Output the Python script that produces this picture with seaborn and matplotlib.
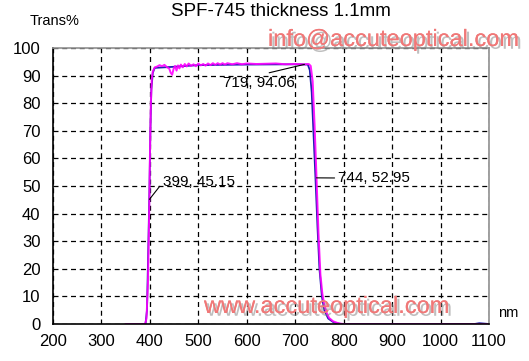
import seaborn as sns
import pandas as pd
import numpy as np
import matplotlib
import matplotlib.pyplot as plt
import matplotlib.patheffects as pe

# measured curve (magenta)
wl_a = [350, 390, 393, 396, 398, 399, 400, 402, 404, 406, 410, 415, 420, 425, 430, 435,
        440, 443, 446, 449, 452, 455, 458, 461, 464, 468, 472, 476, 480, 485, 490, 495,
        500, 505, 510, 515, 520, 525, 530, 535, 540, 545, 550, 555, 560, 570, 580, 590, 600, 620, 640,
        660, 680, 700, 719, 728, 732, 736, 740, 744, 748, 752, 756, 760, 765, 770, 778,
        790, 800, 900, 1000, 1100]
tr_a = [0, 0, 2, 15, 35, 45.15, 60, 80, 89, 91.5, 93, 93.3, 93.8, 93.4, 93.9, 93.1,
        92.5, 91, 90.3, 92.5, 93.5, 91.8, 93.7, 92.6, 94, 93.0, 94.2, 93.3, 94.4, 93.5, 94.1, 93.4,
        94.4, 93.7, 94.2, 93.6, 94.4, 93.8, 94.5, 93.9, 94.5, 94.0, 94.5, 94.0, 94.5, 94.1, 94.5, 94.1, 94.4, 94.2, 94.3,
        94.4, 94.1, 94.2, 94.06, 94.2, 93.5, 88, 72, 52.95, 33, 18, 11, 7, 4, 2.2, 1.0,
        0.2, 0, 0, 0, 0]

# reference curve (blue)
wl_b = [385, 391, 394, 397, 399, 401, 403, 406, 410, 450, 500, 600, 700, 726, 730, 734,
        738, 742, 746, 750, 755, 760, 768, 780, 795, 1070, 1080, 1090, 1100]
tr_b = [0, 0, 5, 30, 48, 70, 85, 91, 92.8, 93.2, 93.8, 94.0, 94.1, 94.0, 92, 84,
        68, 52, 35, 20, 10, 5, 2, 0.5, 0, 0, 0.3, 0.15, 0]

xticks = list(range(200, 1101, 100))
yticks = list(range(0, 101, 10))

sns.set_theme(style='white')
plt.rcParams['font.family'] = ['Liberation Sans', 'DejaVu Sans']
plt.rcParams['text.color'] = 'black'

fig = plt.figure(figsize=(5.29, 3.61), dpi=100)
ax = fig.add_axes([53/529, 1-324/361, 436/529, 276/361])

df_a = pd.DataFrame({'nm': wl_a, 'T': tr_a})
df_b = pd.DataFrame({'nm': wl_b, 'T': tr_b})
sns.lineplot(data=df_b, x='nm', y='T', color='#2020b0', lw=1.3, ax=ax)
sns.lineplot(data=df_a, x='nm', y='T', color='#ff00ff', lw=1.4, alpha=0.9, ax=ax)

ax.set_xlim(200, 1100)
ax.set_ylim(0, 100)
ax.set_xticks(xticks)
ax.set_yticks(yticks)
ax.tick_params(axis='both', length=0, labelsize=12, colors='black')
ax.tick_params(axis='x', pad=7)
ax.tick_params(axis='y', pad=9)
ax.set_xlabel('')
ax.set_ylabel('')
ax.grid(True, color='black', linestyle=(0, (4, 3)), lw=0.9)
for s in ['left', 'bottom']:
    ax.spines[s].set_color('black')
    ax.spines[s].set_linewidth(1.2)
for s in ['top', 'right']:
    ax.spines[s].set_color('#909090')
    ax.spines[s].set_linewidth(1.2)

arr = dict(arrowstyle='-', color='black', lw=0.8, shrinkA=0, shrinkB=0)
ax.annotate('719, 94.06', xy=(719, 94.06), xytext=(551, 87.3), fontsize=11, color='black',
            va='center', ha='left', arrowprops=dict(arr, relpos=(0.45, 1.0)))
ax.annotate('399, 45.15', xy=(399, 45.15), xytext=(427, 51.4), fontsize=11, color='black',
            va='center', ha='left', arrowprops=dict(arr, relpos=(0, 0.5)))
ax.annotate('744, 52.95', xy=(744, 52.95), xytext=(788, 52.9), fontsize=11, color='black',
            va='center', ha='left', arrowprops=dict(arr, relpos=(0, 0.5)))

fig.text(281/529, 1-12/361, 'SPF-745 thickness 1.1mm', fontsize=13.5, ha='center', va='center')
fig.text(30/529, 1-21/361, 'Trans%', fontsize=10.5, ha='left', va='center')
fig.text(498/529, 1-313/361, 'nm', fontsize=10.5, ha='left', va='center')

shadow = [pe.withSimplePatchShadow(offset=(2, -2), shadow_rgbFace='#808080', alpha=0.5), pe.Normal()]
fig.text(268/529, 1-40/361, 'info@accuteoptical.com', fontsize=17, color='#f07878',
         ha='left', va='center', path_effects=shadow)
fig.text(204/529, 1-307/361, 'www.accuteoptical.com', fontsize=17, color='#f07878',
         ha='left', va='center', path_effects=shadow)

plt.savefig('out.png', dpi=100)
